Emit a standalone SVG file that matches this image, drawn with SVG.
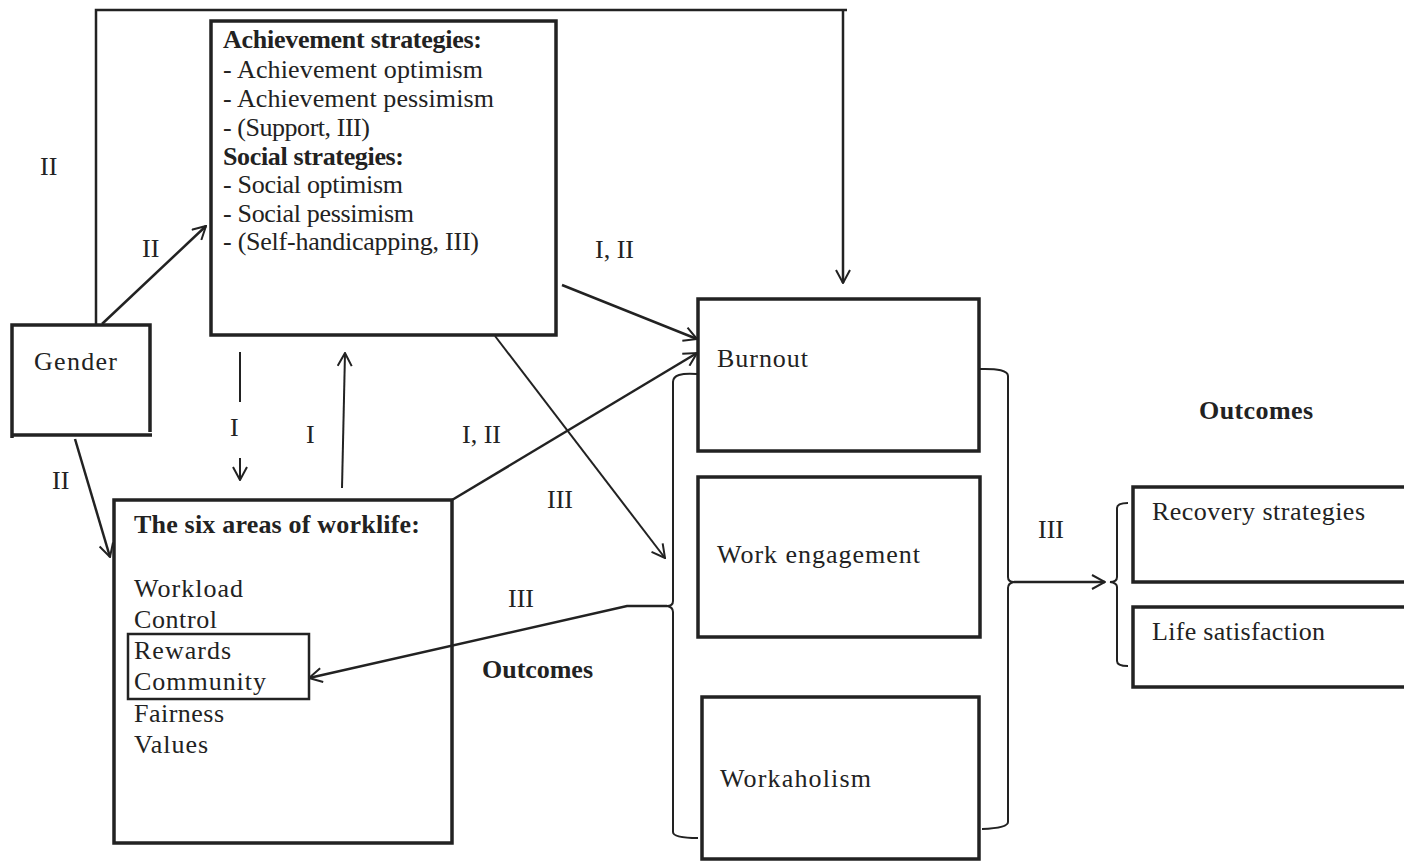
<svg xmlns="http://www.w3.org/2000/svg" width="1404" height="862" viewBox="0 0 1404 862">
<defs>
<marker id="arr" viewBox="0 0 16 16" refX="15" refY="8" markerWidth="16" markerHeight="16" markerUnits="userSpaceOnUse" orient="auto">
<path d="M2,1 L15,8 L2,15" fill="none" stroke="#222" stroke-width="2"/>
</marker>
<style>
.box{fill:none;stroke:#222;stroke-width:3.5}
.ln{fill:none;stroke:#222;stroke-width:2.5}
.thin{fill:none;stroke:#222;stroke-width:2}
text{font-family:"Liberation Serif","Times New Roman",serif;font-size:26px;fill:#222}
.b{font-weight:bold}
</style>
</defs>
<rect width="1404" height="862" fill="#fff"/>

<g id="connectors">
<path class="ln" d="M96,325 V10 H847"/>
<path class="ln" d="M843,10 V283" marker-end="url(#arr)"/>
<path class="ln" d="M102,324 L206,226" marker-end="url(#arr)"/>
<path class="ln" d="M75,439 L110,557" marker-end="url(#arr)"/>
<path class="thin" d="M240,352 V402"/>
<path class="thin" d="M240,458 V480" marker-end="url(#arr)"/>
<path class="thin" d="M342,488 L345,353" marker-end="url(#arr)"/>
<path class="ln" d="M562,285 L697,339" marker-end="url(#arr)"/>
<path class="ln" d="M452,500 L697,353" marker-end="url(#arr)"/>
<path class="thin" d="M495,336 L665,558" marker-end="url(#arr)"/>
<path class="ln" d="M667,606 H627 L309,678" marker-end="url(#arr)"/>
<path class="thin" d="M697,374 Q673,372 673,382 L673,601 Q673,606 667,606 Q673,607 673,612 L673,832 Q673,838 698,838"/>
<path class="thin" d="M979,369 Q1008,368 1008,376 L1008,577 Q1008,582 1014,582 Q1008,583 1008,588 L1008,822 Q1008,828 982,829"/>
<path class="ln" d="M1014,582 H1105" marker-end="url(#arr)"/>
<path class="thin" d="M1128,503 Q1117,503 1117,508 L1117,577 Q1117,582 1110,582 Q1117,583 1117,587 L1117,661 Q1117,666 1128,666"/>
</g>

<g id="gender">
<path class="box" d="M150,432 V325 H12 V438 M12,435 H152"/>
<text x="34" y="370" textLength="83">Gender</text>
</g>

<g id="strategies">
<rect class="box" x="211" y="21" width="345" height="314"/>
<text class="b" x="223" y="48" textLength="259">Achievement strategies:</text>
<text x="223" y="78" textLength="260">- Achievement optimism</text>
<text x="223" y="107" textLength="271">- Achievement pessimism</text>
<text x="223" y="136" textLength="147">- (Support, III)</text>
<text class="b" x="223" y="165" textLength="181">Social strategies:</text>
<text x="223" y="193" textLength="180">- Social optimism</text>
<text x="223" y="222" textLength="191">- Social pessimism</text>
<text x="223" y="250" textLength="256">- (Self-handicapping, III)</text>
</g>

<g id="worklife">
<rect class="box" x="114" y="500" width="338" height="343"/>
<text class="b" x="134" y="533" textLength="286">The six areas of worklife:</text>
<text x="134" y="597" textLength="109">Workload</text>
<text x="134" y="628" textLength="83">Control</text>
<text x="134" y="659" textLength="97">Rewards</text>
<text x="134" y="690" textLength="132">Community</text>
<text x="134" y="722" textLength="90">Fairness</text>
<text x="134" y="753" textLength="74">Values</text>
<rect class="ln" x="128" y="634" width="181" height="65"/>
</g>

<g id="burnout">
<rect class="box" x="698" y="299" width="281" height="152"/>
<text x="717" y="367" textLength="91">Burnout</text>
</g>
<g id="engagement">
<rect class="box" x="698" y="477" width="282" height="160"/>
<text x="717" y="563" textLength="203">Work engagement</text>
</g>
<g id="workaholism">
<rect class="box" x="702" y="697" width="277" height="162"/>
<text x="720" y="787" textLength="151">Workaholism</text>
</g>

<g id="recovery">
<rect class="box" x="1133" y="487" width="280" height="95"/>
<text x="1152" y="520" textLength="213">Recovery strategies</text>
</g>
<g id="life">
<rect class="box" x="1133" y="607" width="280" height="80"/>
<text x="1152" y="640" textLength="173">Life satisfaction</text>
</g>

<g id="labels">
<text x="40" y="175">II</text>
<text x="142" y="257">II</text>
<text x="52" y="489">II</text>
<text x="230" y="436">I</text>
<text x="306" y="443">I</text>
<text x="595" y="258">I, II</text>
<text x="462" y="443">I, II</text>
<text x="547" y="508">III</text>
<text x="508" y="607">III</text>
<text x="1038" y="538">III</text>
<text class="b" x="482" y="678" textLength="111">Outcomes</text>
<text class="b" x="1199" y="419" textLength="114">Outcomes</text>
</g>
</svg>
